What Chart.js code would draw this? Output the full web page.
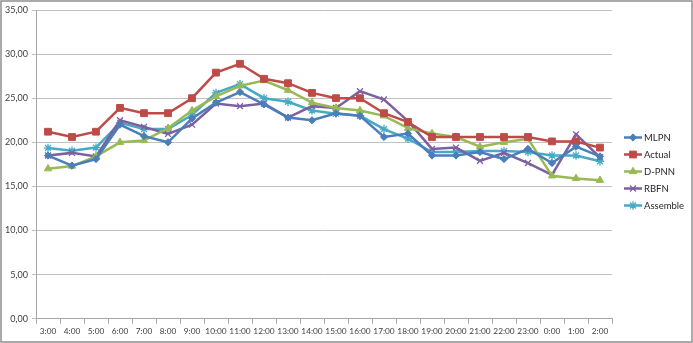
<!DOCTYPE html>
<html>
<head>
<meta charset="utf-8">
<script src="https://cdn.jsdelivr.net/npm/chart.js@4.4.0/dist/chart.umd.min.js"></script>
<style>
  html, body { margin: 0; padding: 0; background: #fff; }
  #wrap { position: relative; width: 693px; height: 343px; }
  canvas { display: block; }
</style>
</head>
<body>
<div id="wrap"><canvas id="c" width="693" height="343"></canvas></div>
<script>
const categories = ["3:00","4:00","5:00","6:00","7:00","8:00","9:00","10:00","11:00","12:00","13:00","14:00","15:00","16:00","17:00","18:00","19:00","20:00","21:00","22:00","23:00","0:00","1:00","2:00"];
const mlpn     = [18.5,17.35,18.1,22.0,20.7,20.0,22.7,24.5,25.7,24.3,22.8,22.5,23.3,23.0,20.6,21.0,18.5,18.5,18.9,18.1,19.25,17.65,19.5,18.4];
const actual   = [21.2,20.6,21.2,23.9,23.3,23.3,25.0,27.9,28.9,27.2,26.7,25.6,25.0,25.0,23.3,22.3,20.6,20.6,20.6,20.6,20.6,20.1,20.1,19.4];
const dpnn     = [17.0,17.3,18.4,20.0,20.2,21.6,23.6,25.2,26.4,27.0,25.9,24.5,23.9,23.6,23.0,21.6,21.0,20.6,19.5,20.0,20.4,16.2,15.9,15.7];
const rbfn     = [18.5,18.8,18.4,22.5,21.75,20.95,22.0,24.4,24.1,24.4,22.8,24.1,23.9,25.8,24.85,22.4,19.25,19.4,17.9,18.8,17.65,16.3,20.9,18.3];
const assemble = [19.35,19.05,19.4,22.2,21.5,21.5,23.1,25.6,26.6,25.0,24.6,23.6,23.25,23.0,21.5,20.4,18.9,18.9,19.0,19.0,18.9,18.5,18.5,17.85];
const yTicks   = [0,5,10,15,20,25,30,35];

const seriesNames = ["MLPN","Actual","D-PNN","RBFN","Assemble"];
const seriesData = [mlpn, actual, dpnn, rbfn, assemble];
const colors = ["#4A7EBB","#BE4B48","#98B954","#7D60A0","#46AAC5"];
const styles = ["rectRot","rect","triangle","crossRot","star"];
const radii = [3.6, 4.8, 4.2, 4.2, 4.2];

const datasets = seriesNames.map((n, i) => ({
  label: n,
  data: seriesData[i],
  borderColor: colors[i],
  backgroundColor: colors[i],
  borderWidth: 2.5,
  pointStyle: styles[i],
  pointRadius: radii[i],
  pointBorderWidth: (styles[i] === 'crossRot' || styles[i] === 'star') ? 1.3 : 1,
  pointBorderColor: colors[i],
  pointBackgroundColor: colors[i],
  tension: 0,
  fill: false
}));

const frame = {
  id: 'frame',
  beforeDraw(chart) {
    const ctx = chart.ctx;
    ctx.save();
    ctx.fillStyle = '#fff';
    ctx.fillRect(0, 0, chart.width, chart.height);
    ctx.strokeStyle = '#8f8f8f';
    ctx.lineWidth = 1.5;
    ctx.strokeRect(1, 1, chart.width - 2, chart.height - 2);
    ctx.restore();
  }
};

const legendPlugin = {
  id: 'xlLegend',
  afterDraw(chart) {
    const ctx = chart.ctx;
    ctx.save();
    const x0 = 624, x1 = 642, yStart = 137.5, step = 17;
    chart.data.datasets.forEach((ds, i) => {
      const y = yStart + i * step;
      ctx.strokeStyle = ds.borderColor;
      ctx.lineWidth = 2.5;
      ctx.beginPath();
      ctx.moveTo(x0, y);
      ctx.lineTo(x1, y);
      ctx.stroke();
      ctx.fillStyle = ds.backgroundColor;
      ctx.strokeStyle = ds.borderColor;
      ctx.lineWidth = ds.pointBorderWidth;
      Chart.helpers.drawPoint(ctx, { pointStyle: ds.pointStyle, radius: ds.pointRadius, borderWidth: ds.pointBorderWidth, rotation: 0 }, (x0 + x1) / 2, y);
      ctx.fillStyle = '#262626';
      ctx.font = '9.5px Lato, "Open Sans", sans-serif';
      ctx.textBaseline = 'middle';
      ctx.textAlign = 'left';
      ctx.fillText(ds.label, x1 + 2, y + 0.5);
    });
    ctx.restore();
  }
};

new Chart(document.getElementById('c'), {
  type: 'line',
  data: { labels: categories, datasets },
  plugins: [frame, legendPlugin],
  options: {
    responsive: false,
    animation: false,
    devicePixelRatio: 1,
    layout: { padding: { left: 0, top: 10, right: 81, bottom: 4 } },
    plugins: { legend: { display: false }, tooltip: { enabled: false } },
    scales: {
      x: {
        offset: true,
        grid: { display: true, drawOnChartArea: false, offset: true, color: '#a6a6a6', tickLength: 5 },
        border: { color: '#a6a6a6', width: 1 },
        ticks: { color: '#404040', font: { size: 8.3, family: 'Lato, "Open Sans", sans-serif' }, padding: 3, maxRotation: 0, autoSkip: false },
        afterFit(s) { s.height = 20.3; }
      },
      y: {
        min: 0, max: 35,
        afterBuildTicks(s) { s.ticks = yTicks.map(v => ({ value: v })); },
        grid: { color: '#c0c0c0', tickLength: 4, lineWidth: 1 },
        border: { color: '#a6a6a6', width: 1 },
        ticks: {
          color: '#404040',
          font: { size: 9, family: 'Lato, "Open Sans", sans-serif' },
          padding: 4,
          callback: v => Number(v).toFixed(2).replace('.', ',')
        },
        afterFit(s) { s.width = 36; }
      }
    }
  }
});
</script>
</body>
</html>
